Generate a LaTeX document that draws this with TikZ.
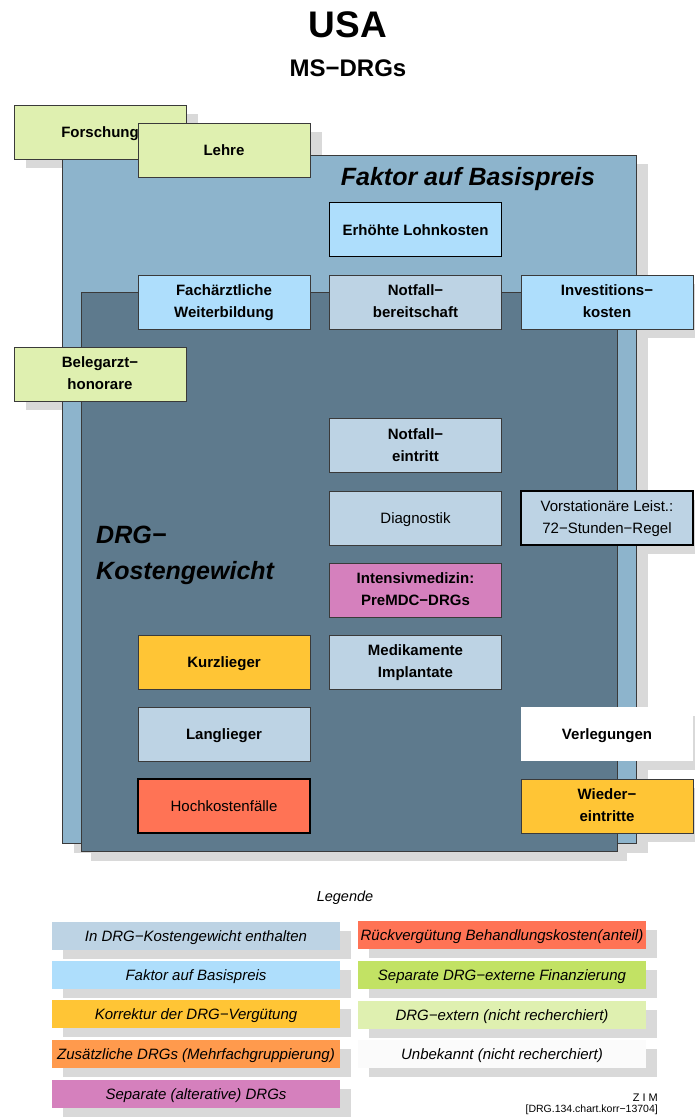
\documentclass[tikz,border=0pt]{standalone}
\usepackage{fontspec}
\setmainfont{Liberation Sans}
\definecolor{cshadow}{HTML}{D9D9D9}
\definecolor{basis}{HTML}{8DB4CC}
\definecolor{kgew}{HTML}{5E7A8D}
\definecolor{cgraublau}{HTML}{BDD3E4}
\definecolor{chellblau}{HTML}{AEDEFC}
\definecolor{cgelb}{HTML}{FFC535}
\definecolor{corange}{HTML}{FF9A4D}
\definecolor{cviolett}{HTML}{D580BD}
\definecolor{crot}{HTML}{FF7355}
\definecolor{cgruen}{HTML}{C2E264}
\definecolor{chellgruen}{HTML}{DFF0B0}
\definecolor{cweiss}{HTML}{FBFBFB}
\definecolor{rand}{HTML}{3A3A3A}
\begin{document}
\begin{tikzpicture}[x=1pt,y=-1pt,
  boxbase/.style={minimum width=172pt,minimum height=54pt,inner sep=0pt,align=center,
    text height=11pt,text depth=0pt},
  twoline/.style={text height=31.8pt,text depth=0pt},
  item/.style={boxbase,draw=rand,line width=0.8pt,font=\fontsize{15}{22}\selectfont\bfseries},
  itemplain/.style={boxbase,draw=black,line width=1.3pt,font=\fontsize{15}{22}\selectfont},
  strong/.style={line width=1.3pt,draw=black},
  shadowbox/.style={minimum width=172pt,minimum height=54pt,inner sep=0pt,fill=cshadow,draw=none},
  legbox/.style={minimum width=288pt,minimum height=28pt,inner sep=0pt,draw=none,font=\fontsize{15}{18}\selectfont\itshape},
  legtext/.style={legbox,text height=11.8pt,text depth=0pt},
  legshadow/.style={legbox,fill=cshadow},
  bigtitle/.style={font=\fontsize{25}{38}\selectfont\bfseries\itshape,inner sep=0pt}]
\useasboundingbox (0,0) rectangle (695,1117);

% headings
\node[font=\fontsize{37}{40}\selectfont\bfseries] (usa) at (348,25) {USA};
\node[font=\fontsize{24}{28}\selectfont\bfseries] (msdrg) at (348,68) {MS−DRGs};

% drop shadows (all behind everything else)
\fill[cshadow] (74,164) rectangle (648,853);
\fill[cshadow] (91,301) rectangle (627,861);
\node[shadowbox] (s-forsch) at (112,141) {};
\node[shadowbox] (s-lehre) at (236,159) {};
\node[shadowbox] (s-beleg) at (112,383) {};
\node[shadowbox] (s-invest) at (619,311) {};
\node[shadowbox] (s-vorst) at (619,527) {};
\node[shadowbox] (s-verl) at (619,743) {};
\node[shadowbox] (s-wieder) at (619,815) {};

% price factor area and cost weight area
\draw[fill=basis,draw=rand,line width=0.8pt] (62,155) rectangle (636,843);
\draw[fill=kgew,draw=rand,line width=0.8pt] (81,292) rectangle (617,851);
\node[bigtitle] (tbasis) at (468,179.5) {Faktor auf Basispreis};
\node[bigtitle,anchor=west] (tdrg1) at (96,535) {DRG−};
\node[bigtitle,anchor=west] (tdrg2) at (96,573) {Kostengewicht};

% cost components
\node[item,fill=chellgruen] (forsch) at (100,132) {Forschung};
\node[item,fill=chellgruen] (lehre) at (224,150) {Lehre};
\node[item,strong,fill=chellblau] (erh) at (415.5,229.5) {Erhöhte Lohnkosten};
\node[item,twoline,fill=chellblau] (fach) at (224,302) {Fachärztliche\\Weiterbildung};
\node[item,twoline,fill=cgraublau] (notb) at (415.5,302) {Notfall−\\bereitschaft};
\node[item,twoline,fill=chellblau] (invest) at (607,302) {Investitions−\\kosten};
\node[item,twoline,fill=chellgruen] (beleg) at (100,374) {Belegarzt−\\honorare};
\node[item,twoline,fill=cgraublau] (note) at (415.5,445.5) {Notfall−\\eintritt};
\node[item,fill=cgraublau,font=\fontsize{15}{22}\selectfont] (diag) at (415.5,518) {Diagnostik};
\node[itemplain,twoline,fill=cgraublau] (vorst) at (607,518) {Vorstationäre Leist.:\\72−Stunden−Regel};
\node[item,twoline,fill=cviolett] (intens) at (415.5,590) {Intensivmedizin:\\PreMDC−DRGs};
\node[item,fill=cgelb] (kurz) at (224,662) {Kurzlieger};
\node[item,twoline,fill=cgraublau] (medi) at (415.5,662) {Medikamente\\Implantate};
\node[item,fill=cgraublau] (lang) at (224,734) {Langlieger};
\node[item,fill=white,draw=none] (verl) at (607,734) {Verlegungen};
\node[itemplain,fill=crot] (hoch) at (224,806) {Hochkostenfälle};
\node[item,twoline,fill=cgelb] (wieder) at (607,806) {Wieder−\\eintritte};

% legend
\node[font=\fontsize{14.5}{17}\selectfont\itshape] (legende) at (345,898) {Legende};
\foreach \cx/\cy in {196/935.5,196/975,196/1014,196/1054,196/1094,502/935,502/975,502/1014.5,502/1054}
  \node[legshadow] at (\cx+11,\cy+9) {};
\node[legtext,fill=cgraublau] (l1) at (196,935.5) {In DRG−Kostengewicht enthalten};
\node[legtext,fill=chellblau] (l2) at (196,975) {Faktor auf Basispreis};
\node[legtext,fill=cgelb] (l3) at (196,1014) {Korrektur der DRG−Vergütung};
\node[legtext,fill=corange] (l4) at (196,1054) {Zusätzliche DRGs (Mehrfachgruppierung)};
\node[legtext,fill=cviolett] (l5) at (196,1094) {Separate (alterative) DRGs};
\node[legtext,fill=crot] (l6) at (502,935) {Rückvergütung Behandlungskosten(anteil)};
\node[legtext,fill=cgruen] (l7) at (502,975) {Separate DRG−externe Finanzierung};
\node[legtext,fill=chellgruen] (l8) at (502,1014.5) {DRG−extern (nicht recherchiert)};
\node[legtext,fill=cweiss] (l9) at (502,1054) {Unbekannt (nicht recherchiert)};

% footer
\node[anchor=east,inner sep=0pt,font=\fontsize{11}{12}\selectfont] (zim) at (658,1098) {Z I M};
\node[anchor=east,inner sep=0pt,font=\fontsize{10.5}{12}\selectfont] (ref) at (658,1110) {[DRG.134.chart.korr−13704]};
\end{tikzpicture}
\end{document}
